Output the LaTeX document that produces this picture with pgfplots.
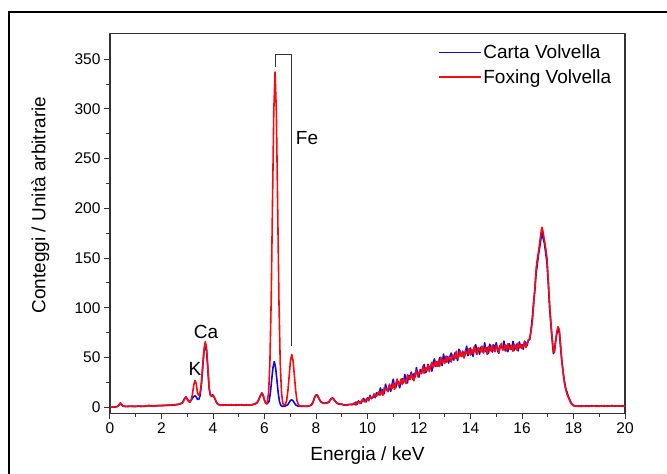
\documentclass[border=0pt]{standalone}
\usepackage{pgfplots}
\pgfplotsset{compat=1.18}
\usepackage{fontspec}
\setmainfont{Liberation Sans}
\definecolor{carta}{RGB}{10,10,235}
\definecolor{foxing}{RGB}{250,10,10}
\begin{document}
\begin{tikzpicture}[x=1pt,y=1pt]
\useasboundingbox (0,0) rectangle (667,474);
% outer frame (right and bottom fall outside the picture)
\draw[line width=2pt] (700,462) -- (8.5,462) -- (8.5,-20);
\begin{axis}[
    at={(110pt,60.7pt)}, anchor=south west,
    scale only axis, width=515pt, height=380pt,
    xmin=0, xmax=20, ymin=-6, ymax=376,
    xtick={0,2,...,20}, minor x tick num=1,
    ytick={0,50,...,350}, minor y tick num=1,
    tick pos=left, tick align=outside,
    major tick length=6pt, minor tick length=3.5pt,
    axis line style={line width=1.3pt, black!80},
    tick style={line width=1pt, black!80},
    /pgf/number format/assume math mode=true,
    ticklabel style={font=\fontsize{15.5}{18}\selectfont},
    label style={font=\fontsize{19}{22}\selectfont},
    xlabel={Energia / keV},
    ylabel={Conteggi / Unità arbitrarie},
    xlabel style={at={(axis description cs:0.5,-0.11)}, anchor=center},
    ylabel style={at={(axis description cs:-0.135,0.548)}, anchor=center},
    legend cell align=left,
    legend style={draw=none, fill=none, at={(axis description cs:0.636,0.975)}, anchor=north west,
        font=\fontsize{19}{22}\selectfont, inner sep=0pt, row sep=5pt,
        /tikz/every even column/.append style={column sep=2pt}},
    legend image code/.code={\draw[#1, line width=1.6pt] (0pt,0pt) -- (42pt,0pt);},
    line join=round,
]
\addplot[carta, line width=1.6pt] coordinates {
(0,0.3)(0.1,0.5)(0.2,0.3)(0.3,1)(0.35,2.5)(0.4,4)(0.45,2.5)(0.5,1.2)(0.6,0.8)(0.7,1.1)(0.8,0.9)(0.9,1.2)(1.0,0.8)(1.1,1.2)(1.2,1.1)(1.3,0.9)(1.4,1.4)(1.5,1.6)(1.6,1.5)(1.7,1.3)(1.8,1.8)(1.9,1.6)(2.0,1.9)(2.1,1.7)(2.2,2.2)(2.3,2)(2.4,2.4)(2.5,2.3)(2.6,2.9)(2.7,3.2)(2.8,4.5)(2.85,6.5)(2.9,9)(2.95,10.5)(3.0,8.5)(3.05,6.5)(3.1,6)(3.15,7)(3.2,9)(3.25,11)(3.3,11.5)(3.35,10.5)(3.4,8)(3.45,8)(3.5,12)(3.55,23)(3.6,40)(3.65,56)(3.7,63)(3.75,57)(3.8,38)(3.85,19)(3.9,12)(3.95,12)(4.0,12.5)(4.05,10)(4.1,7)(4.15,4.5)(4.2,3)(4.3,2.3)(4.4,2)(4.5,2.6)(4.6,2.3)(4.7,2.7)(4.8,2.1)(4.9,2.6)(5.0,2.3)(5.1,2.7)(5.2,2.1)(5.3,2.6)(5.4,2.2)(5.5,2.7)(5.6,3.2)(5.7,4.5)(5.75,6.5)(5.8,9.5)(5.85,12.5)(5.9,14.5)(5.95,12)(6.0,7)(6.05,4)(6.1,3.5)(6.18,6)(6.23,15)(6.28,28)(6.33,40)(6.38,46)(6.43,40)(6.48,28)(6.53,15)(6.58,6)(6.63,2)(6.7,1)(6.8,1.2)(6.9,2.5)(6.96,5)(7.01,7)(7.06,7.5)(7.11,6.5)(7.16,4.5)(7.21,2.5)(7.3,1.2)(7.4,1)(7.5,1.3)(7.6,1)(7.7,1.2)(7.8,2)(7.85,3.5)(7.9,6.5)(7.95,10.5)(8.0,12.5)(8.05,12)(8.1,9.5)(8.15,7)(8.2,5.5)(8.25,4.5)(8.3,4)(8.4,4.5)(8.5,5.5)(8.55,7.5)(8.6,9)(8.65,9)(8.7,7.5)(8.75,6)(8.8,4.5)(8.9,3)(9.0,3.2)(9.1,2.2)(9.2,2.5)(9.3,2.8)(9.4,3.2)(9.45,3)
(9.50,3)(9.55,5.3)(9.60,3)(9.65,6.5)(9.70,5)(9.75,4)(9.80,7)(9.85,9)(9.90,6)(9.95,5.5)(10.00,9.5)(10.05,8.5)(10.10,12)(10.15,8.7)(10.20,9.9)(10.25,12.1)(10.30,9.8)(10.35,14.5)(10.40,13.7)(10.45,12.4)(10.50,19.6)(10.55,14.3)(10.60,18)(10.65,13.7)(10.70,23.3)(10.75,18)(10.80,16.7)(10.85,22.3)(10.90,16)(10.95,22.7)(11.00,28.3)(11.05,21)(11.10,19.7)(11.15,27.3)(11.20,25)(11.25,19.6)(11.30,27.3)(11.35,28.9)(11.40,24.6)(11.45,33.2)(11.50,26.9)(11.55,24.5)(11.60,32.1)(11.65,30.8)(11.70,35.4)(11.75,28.1)(11.80,33.7)(11.85,30.4)(11.90,40)(11.95,33.7)(12.00,30.4)(12.05,38.1)(12.10,34.8)(12.15,38.4)(12.20,43.1)(12.25,34.8)(12.30,36.5)(12.35,43.2)(12.40,38.9)(12.45,41.6)(12.50,36.3)(12.55,44.9)(12.60,48.6)(12.65,41.3)(12.70,46)(12.75,41.5)(12.80,50)(12.85,44.5)(12.90,42)(12.95,53.5)(13.00,48)(13.05,45.5)(13.10,51)(13.15,44.5)(13.20,51)(13.25,54.5)(13.30,49)(13.35,47.5)(13.40,55)(13.45,51.5)(13.50,47)(13.55,58.4)(13.60,54.7)(13.65,51.1)(13.70,56.4)(13.75,49.8)(13.80,55.1)(13.85,61.5)(13.90,51.9)(13.95,55.2)(14.00,59.6)(14.05,53.9)(14.10,51.3)(14.15,59.6)(14.20,63)(14.25,56.1)(14.30,59.3)(14.35,53.4)(14.40,60.5)(14.45,58.6)(14.50,54.8)(14.55,64.9)(14.60,56)(14.65,60.1)(14.70,54.3)(14.75,63.4)(14.80,58.5)(14.85,55.6)(14.90,62.8)(14.95,57.9)(15.00,65)(15.05,57.1)(15.10,54.2)(15.15,62.3)(15.20,61.4)(15.25,58.5)(15.30,66.6)(15.35,56.7)(15.40,61.8)(15.45,55.9)(15.50,64)(15.55,61.1)(15.60,58.2)(15.65,66.3)(15.70,57.4)(15.75,60.5)(15.80,63.6)(15.85,56.7)(15.90,65.8)(15.95,59.9)(16.00,63)(16.05,58.5)(16.10,66.5)(16.15,64)(16.20,62)(16.25,68)
(16.30,68)(16.35,78)(16.40,90)(16.45,106)(16.50,118)(16.55,135)(16.60,145)(16.65,155)(16.70,163)(16.75,172)(16.78,176)(16.82,170)(16.87,165)(16.92,155)(16.97,145)(17.02,125)(17.07,100)(17.12,84)(17.17,68)(17.22,54)(17.26,57)(17.30,66)(17.35,74)(17.40,78)(17.45,75)(17.50,60)(17.55,45)(17.60,35)(17.65,26)(17.70,19)(17.75,15)(17.80,11)(17.85,8)(17.90,5)(17.95,3)(18.00,2)
(18.1,1.3)(18.2,0.9)(18.3,1.4)(18.4,1.1)(18.5,1.5)(18.6,1)(18.7,1.6)(18.8,1.2)(18.9,1.5)(19.0,1)(19.1,1.6)(19.2,1.1)(19.3,1.5)(19.4,1.2)(19.5,1.7)(19.6,1.1)(19.7,1.4)(19.8,1.2)(19.9,1.6)(20.0,1.1)
};
\addplot[foxing, line width=1.6pt] coordinates {
(0,0.5)(0.1,0.3)(0.2,0.5)(0.3,0.8)(0.35,2)(0.4,4.5)(0.45,3)(0.5,1.5)(0.6,1)(0.7,0.8)(0.8,1.2)(0.9,0.7)(1.0,1)(1.1,1.5)(1.2,0.8)(1.3,1.3)(1.4,1)(1.5,2)(1.6,1.2)(1.7,1.6)(1.8,1.3)(1.9,2)(2.0,1.5)(2.1,2.2)(2.2,1.8)(2.3,2.5)(2.4,2)(2.5,2.8)(2.6,2.5)(2.7,3.5)(2.8,4)(2.85,6)(2.9,9)(2.95,10)(3.0,8)(3.05,6)(3.1,5)(3.15,7)(3.2,13)(3.25,22)(3.3,27)(3.35,24)(3.4,14)(3.45,12)(3.5,15)(3.55,25)(3.6,42)(3.65,58)(3.7,66)(3.75,60)(3.8,40)(3.85,20)(3.9,12)(3.95,11)(4.0,12)(4.05,10)(4.1,7)(4.15,4)(4.2,3)(4.3,2)(4.4,2.5)(4.5,2)(4.6,2.8)(4.7,2.2)(4.8,2.5)(4.9,2)(5.0,2.7)(5.1,2.2)(5.2,2.5)(5.3,2)(5.4,2.6)(5.5,2.3)(5.6,3)(5.7,4)(5.75,6)(5.8,9)(5.85,12)(5.9,14)(5.95,12)(6.0,7)(6.05,4)(6.1,4)(6.16,15)(6.21,45)(6.26,109)(6.31,204)(6.36,297)(6.41,337)(6.46,297)(6.51,204)(6.56,109)(6.61,45)(6.66,15)(6.71,4)(6.76,2)(6.81,3)(6.86,7)(6.91,17)(6.96,32)(7.01,47)(7.06,53)(7.11,47)(7.16,32)(7.21,17)(7.26,7)(7.31,3)(7.36,1.5)(7.45,1)(7.55,1.2)(7.65,1)(7.75,1.5)(7.85,3)(7.9,6)(7.95,10)(8.0,12)(8.05,12.5)(8.1,10)(8.15,7)(8.2,5)(8.25,5)(8.3,4)(8.4,4)(8.5,5)(8.55,7)(8.6,9)(8.65,9.5)(8.7,8)(8.75,6)(8.8,4.5)(8.9,3.5)(9.0,3)(9.1,2.5)(9.2,2)(9.3,3)(9.4,2.5)(9.45,3.5)
(9.50,4.5)(9.55,2.3)(9.60,4.5)(9.65,6)(9.70,4)(9.75,5.5)(9.80,8)(9.85,6)(9.90,5.5)(9.95,8.5)(10.00,8.5)(10.05,6.5)(10.10,10.5)(10.15,9.7)(10.20,9.4)(10.25,13.6)(10.30,11.3)(10.35,11)(10.40,14.2)(10.45,15.9)(10.50,12.6)(10.55,16.3)(10.60,12)(10.65,19.7)(10.70,19.3)(10.75,17)(10.80,15.7)(10.85,23.3)(10.90,20)(10.95,18.7)(11.00,24.3)(11.05,18)(11.10,23.7)(11.15,28.3)(11.20,22)(11.25,23.6)(11.30,28.3)(11.35,22.9)(11.40,28.6)(11.45,27.2)(11.50,23.9)(11.55,32.5)(11.60,30.1)(11.65,27.8)(11.70,33.4)(11.75,30.1)(11.80,26.7)(11.85,34.4)(11.90,37)(11.95,30.7)(12.00,35.4)(12.05,35.1)(12.10,33.8)(12.15,41.4)(12.20,34.1)(12.25,39.8)(12.30,37.5)(12.35,42.2)(12.40,35.9)(12.45,41.6)(12.50,45.3)(12.55,39.9)(12.60,42.6)(12.65,46.3)(12.70,41)(12.75,46.5)(12.80,41)(12.85,50.5)(12.90,45)(12.95,47.5)(13.00,44)(13.05,51.5)(13.10,46)(13.15,50.5)(13.20,49)(13.25,45.5)(13.30,53)(13.35,51.5)(13.40,49)(13.45,56.5)(13.50,49)(13.55,51.4)(13.60,56.7)(13.65,51.1)(13.70,55.4)(13.75,49.8)(13.80,57.1)(13.85,54.5)(13.90,53.9)(13.95,59.2)(14.00,52.6)(14.05,57.9)(14.10,54.3)(14.15,61.6)(14.20,56)(14.25,53.1)(14.30,60.3)(14.35,58.4)(14.40,55.5)(14.45,61.6)(14.50,54.8)(14.55,57.9)(14.60,60)(14.65,53.1)(14.70,61.3)(14.75,59.4)(14.80,56.5)(14.85,62.6)(14.90,57.8)(14.95,55.9)(15.00,62)(15.05,61.1)(15.10,55.2)(15.15,60.3)(15.20,64.4)(15.25,57.5)(15.30,58.6)(15.35,62.7)(15.40,56.8)(15.45,63.9)(15.50,60)(15.55,58.1)(15.60,62.2)(15.65,56.3)(15.70,63.4)(15.75,61.5)(15.80,57.6)(15.85,64.7)(15.90,59.8)(15.95,62.9)(16.00,59)(16.05,61.5)(16.10,65.5)(16.15,60)(16.20,65)(16.25,67)
(16.30,70)(16.35,76)(16.40,86)(16.45,102)(16.50,120)(16.55,140)(16.60,150)(16.65,158)(16.70,168)(16.75,178)(16.78,181)(16.82,176)(16.87,168)(16.92,160)(16.97,150)(17.02,128)(17.07,105)(17.12,86)(17.17,70)(17.22,57)(17.26,55)(17.30,64)(17.35,76)(17.40,81)(17.45,78)(17.50,62)(17.55,46)(17.60,34)(17.65,24)(17.70,18)(17.75,13)(17.80,10)(17.85,7)(17.90,4)(17.95,3)(18.00,1.5)
(18.1,1)(18.2,1.5)(18.3,0.8)(18.4,1.3)(18.5,1)(18.6,1.6)(18.7,1.1)(18.8,1.4)(18.9,0.9)(19.0,1.5)(19.1,1.2)(19.2,1.7)(19.3,1)(19.4,1.4)(19.5,1.1)(19.6,1.6)(19.7,1.2)(19.8,1.5)(19.9,1)(20.0,1.3)
};
\legend{Carta Volvella, Foxing Volvella}
\node[font=\fontsize{19}{22}\selectfont] at (axis cs:3.3,38.6) {K};
\node[font=\fontsize{19}{22}\selectfont] at (axis cs:3.73,76) {Ca};
\node[font=\fontsize{19}{22}\selectfont] at (axis cs:7.65,271) {Fe};
\draw[black!80, line width=0.9pt] (axis cs:6.41,342) -- (axis cs:6.41,355) -- (axis cs:7.06,355) -- (axis cs:7.06,62);
\end{axis}
\end{tikzpicture}
\end{document}
